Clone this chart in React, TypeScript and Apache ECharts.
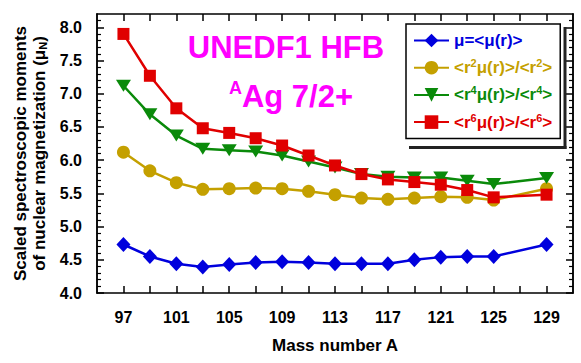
import React, { useEffect, useRef } from 'react';
import * as echarts from 'echarts';

const massNumbers = [97, 99, 101, 103, 105, 107, 109, 111, 113, 115, 117, 119, 121, 123, 125, 129];
const muR = [4.73, 4.55, 4.44, 4.39, 4.43, 4.46, 4.47, 4.46, 4.44, 4.44, 4.44, 4.5, 4.54, 4.55, 4.55, 4.73];
const r2Mu = [6.12, 5.84, 5.66, 5.56, 5.57, 5.58, 5.57, 5.53, 5.48, 5.43, 5.41, 5.43, 5.45, 5.44, 5.4, 5.57];
const r4Mu = [7.12, 6.69, 6.37, 6.17, 6.15, 6.13, 6.07, 5.98, 5.89, 5.79, 5.75, 5.74, 5.74, 5.69, 5.64, 5.73];
const r6Mu = [7.9, 7.27, 6.78, 6.48, 6.41, 6.33, 6.22, 6.07, 5.92, 5.79, 5.71, 5.67, 5.63, 5.55, 5.44, 5.48];

const xTickValues = [97, 99, 101, 103, 105, 107, 109, 111, 113, 115, 117, 119, 121, 123, 125, 127, 129];
const xLabelValues = [97, 101, 105, 109, 113, 117, 121, 125, 129];
const yLabelValues = [4.0, 4.5, 5.0, 5.5, 6.0, 6.5, 7.0, 7.5, 8.0];
const yMinorTickValues = [
  4.1, 4.2, 4.3, 4.4, 4.6, 4.7, 4.8, 4.9, 5.1, 5.2, 5.3, 5.4, 5.6, 5.7, 5.8, 5.9,
  6.1, 6.2, 6.3, 6.4, 6.6, 6.7, 6.8, 6.9, 7.1, 7.2, 7.3, 7.4, 7.6, 7.7, 7.8, 7.9, 8.1,
];

const seriesNames = ['mu', 'r2', 'r4', 'r6'];
const seriesValues = [muR, r2Mu, r4Mu, r6Mu];
const seriesColors = ['#0000dd', '#c4a000', '#0a8a0a', '#e00000'];
const seriesSymbols = ['diamond', 'circle', 'triangle', 'rect'];
const seriesSymbolSizes: any[] = [[14, 15], 13, [15, 12], 12];
const seriesSymbolRotate = [0, 0, 180, 0];
const powers = ['', '2', '4', '6'];

const FONT = '"Liberation Sans", Arial, Helvetica, sans-serif';

export default function App() {
  const ref = useRef<HTMLDivElement>(null);
  useEffect(() => {
    if (!ref.current) return;
    const chart = echarts.init(ref.current, null, { renderer: 'svg' });

    const rich: any = {};
    seriesColors.forEach((c, i) => {
      rich['n' + i] = { color: c, fontSize: 17, fontWeight: 'bold', fontFamily: FONT, lineHeight: 20 };
      rich['s' + i] = { color: c, fontSize: 11, fontWeight: 'bold', fontFamily: FONT, lineHeight: 11, verticalAlign: 'top' };
    });

    const legendFormatter = (name: string) => {
      const i = seriesNames.indexOf(name);
      if (i === 0) return `{n0|μ=<μ(r)>}`;
      const p = powers[i];
      return `{n${i}|<r}{s${i}|${p}}{n${i}|μ(r)>/<r}{s${i}|${p}}{n${i}|>}`;
    };

    const baseX = {
      type: 'value',
      min: 95,
      max: 131,
      splitLine: { show: false },
      axisLine: { show: true, onZero: false, lineStyle: { color: '#000', width: 1.5 } },
    };
    const baseY = {
      type: 'value',
      min: 4,
      max: 8.2,
      splitLine: { show: false },
      axisLine: { show: true, onZero: false, lineStyle: { color: '#000', width: 1.5 } },
    };

    chart.setOption({
      animation: false,
      backgroundColor: '#fff',
      grid: { left: 97, right: 8, top: 14, bottom: 70, containLabel: false },
      xAxis: [
        {
          ...baseX,
          position: 'bottom',
          name: 'Mass number A',
          nameLocation: 'middle',
          nameGap: 44,
          nameTextStyle: { fontSize: 17, fontWeight: 'bold', color: '#000', fontFamily: FONT },
          axisTick: { show: true, inside: true, length: 7, customValues: xTickValues, lineStyle: { color: '#000', width: 1.5 } },
          axisLabel: {
            show: true,
            customValues: xLabelValues,
            margin: 16,
            fontSize: 16,
            fontWeight: 'bold',
            color: '#000',
            fontFamily: FONT,
          },
        },
        {
          ...baseX,
          position: 'top',
          axisTick: { show: true, inside: true, length: 7, customValues: xTickValues, lineStyle: { color: '#000', width: 1.5 } },
          axisLabel: { show: false },
        },
      ],
      yAxis: [
        {
          ...baseY,
          position: 'left',
          name: '{t|Scaled spectroscopic moments}\n{t|of nuclear magnetization (μ}{sub|N}{t|)}',
          nameLocation: 'middle',
          nameGap: 46,
          nameRotate: 90,
          nameTextStyle: {
            color: '#000',
            rich: {
              t: { fontSize: 17, fontWeight: 'bold', color: '#000', fontFamily: FONT, lineHeight: 19 },
              sub: { fontSize: 11, fontWeight: 'bold', color: '#000', fontFamily: FONT, lineHeight: 19, verticalAlign: 'bottom' },
            },
          },
          axisTick: { show: true, inside: true, length: 7, customValues: yLabelValues, lineStyle: { color: '#000', width: 1.5 } },
          axisLabel: {
            show: true,
            customValues: yLabelValues,
            margin: 15,
            fontSize: 16,
            fontWeight: 'bold',
            color: '#000',
            fontFamily: FONT,
            formatter: (v: number) => v.toFixed(1),
          },
        },
        {
          ...baseY,
          position: 'left',
          axisTick: { show: true, inside: true, length: 4, customValues: yMinorTickValues, lineStyle: { color: '#000', width: 1.2 } },
          axisLabel: { show: false },
        },
        {
          ...baseY,
          position: 'right',
          axisTick: { show: true, inside: true, length: 7, customValues: yLabelValues, lineStyle: { color: '#000', width: 1.5 } },
          axisLabel: { show: false },
        },
        {
          ...baseY,
          position: 'right',
          axisTick: { show: true, inside: true, length: 4, customValues: yMinorTickValues, lineStyle: { color: '#000', width: 1.2 } },
          axisLabel: { show: false },
        },
      ],
      legend: {
        orient: 'vertical',
        left: 406,
        top: 24,
        z: 6,
        padding: [8, 8, 8, 7],
        itemGap: 8.7,
        itemWidth: 35,
        itemHeight: 17,
        backgroundColor: '#fff',
        borderColor: '#000',
        borderWidth: 1.5,
        borderRadius: 0,
        data: seriesNames,
        formatter: legendFormatter,
        textStyle: { fontSize: 17, fontWeight: 'bold', fontFamily: FONT, rich },
      },
      graphic: [
        {
          type: 'rect',
          z: 100,
          silent: true,
          shape: { x: 563.5, y: 27, width: 3, height: 122 },
          style: { fill: '#222' },
        },
        {
          type: 'rect',
          z: 100,
          silent: true,
          shape: { x: 409, y: 146, width: 157.5, height: 3 },
          style: { fill: '#222' },
        },
        {
          type: 'text',
          x: 286,
          y: 47,
          z: 10,
          style: {
            text: 'UNEDF1 HFB',
            fill: '#ff00ff',
            font: `bold 31px ${FONT}`,
            textAlign: 'center',
            textVerticalAlign: 'middle',
          },
        },
        {
          type: 'text',
          x: 291,
          y: 96,
          z: 10,
          style: {
            text: '{sup|A}{big|Ag 7/2+}',
            textAlign: 'center',
            textVerticalAlign: 'middle',
            rich: {
              sup: { fill: '#ff00ff', fontSize: 18, fontWeight: 'bold', fontFamily: FONT, lineHeight: 18, verticalAlign: 'top' },
              big: { fill: '#ff00ff', fontSize: 31, fontWeight: 'bold', fontFamily: FONT, lineHeight: 34 },
            },
          },
        },
      ],
      series: seriesNames.map((name, i) => ({
        name,
        type: 'line',
        xAxisIndex: 0,
        yAxisIndex: 0,
        data: massNumbers.map((m, j) => [m, seriesValues[i][j]]),
        symbol: seriesSymbols[i],
        symbolSize: seriesSymbolSizes[i],
        symbolRotate: seriesSymbolRotate[i],
        showAllSymbol: true,
        lineStyle: { color: seriesColors[i], width: 2.5 },
        itemStyle: { color: seriesColors[i], borderWidth: 0 },
        emphasis: { disabled: true },
        z: 2 + i,
      })),
    });
    return () => chart.dispose();
  }, []);
  return <div ref={ref} style={{ width: 581, height: 363, position: 'absolute', left: 0, top: 0 }} />;
}
